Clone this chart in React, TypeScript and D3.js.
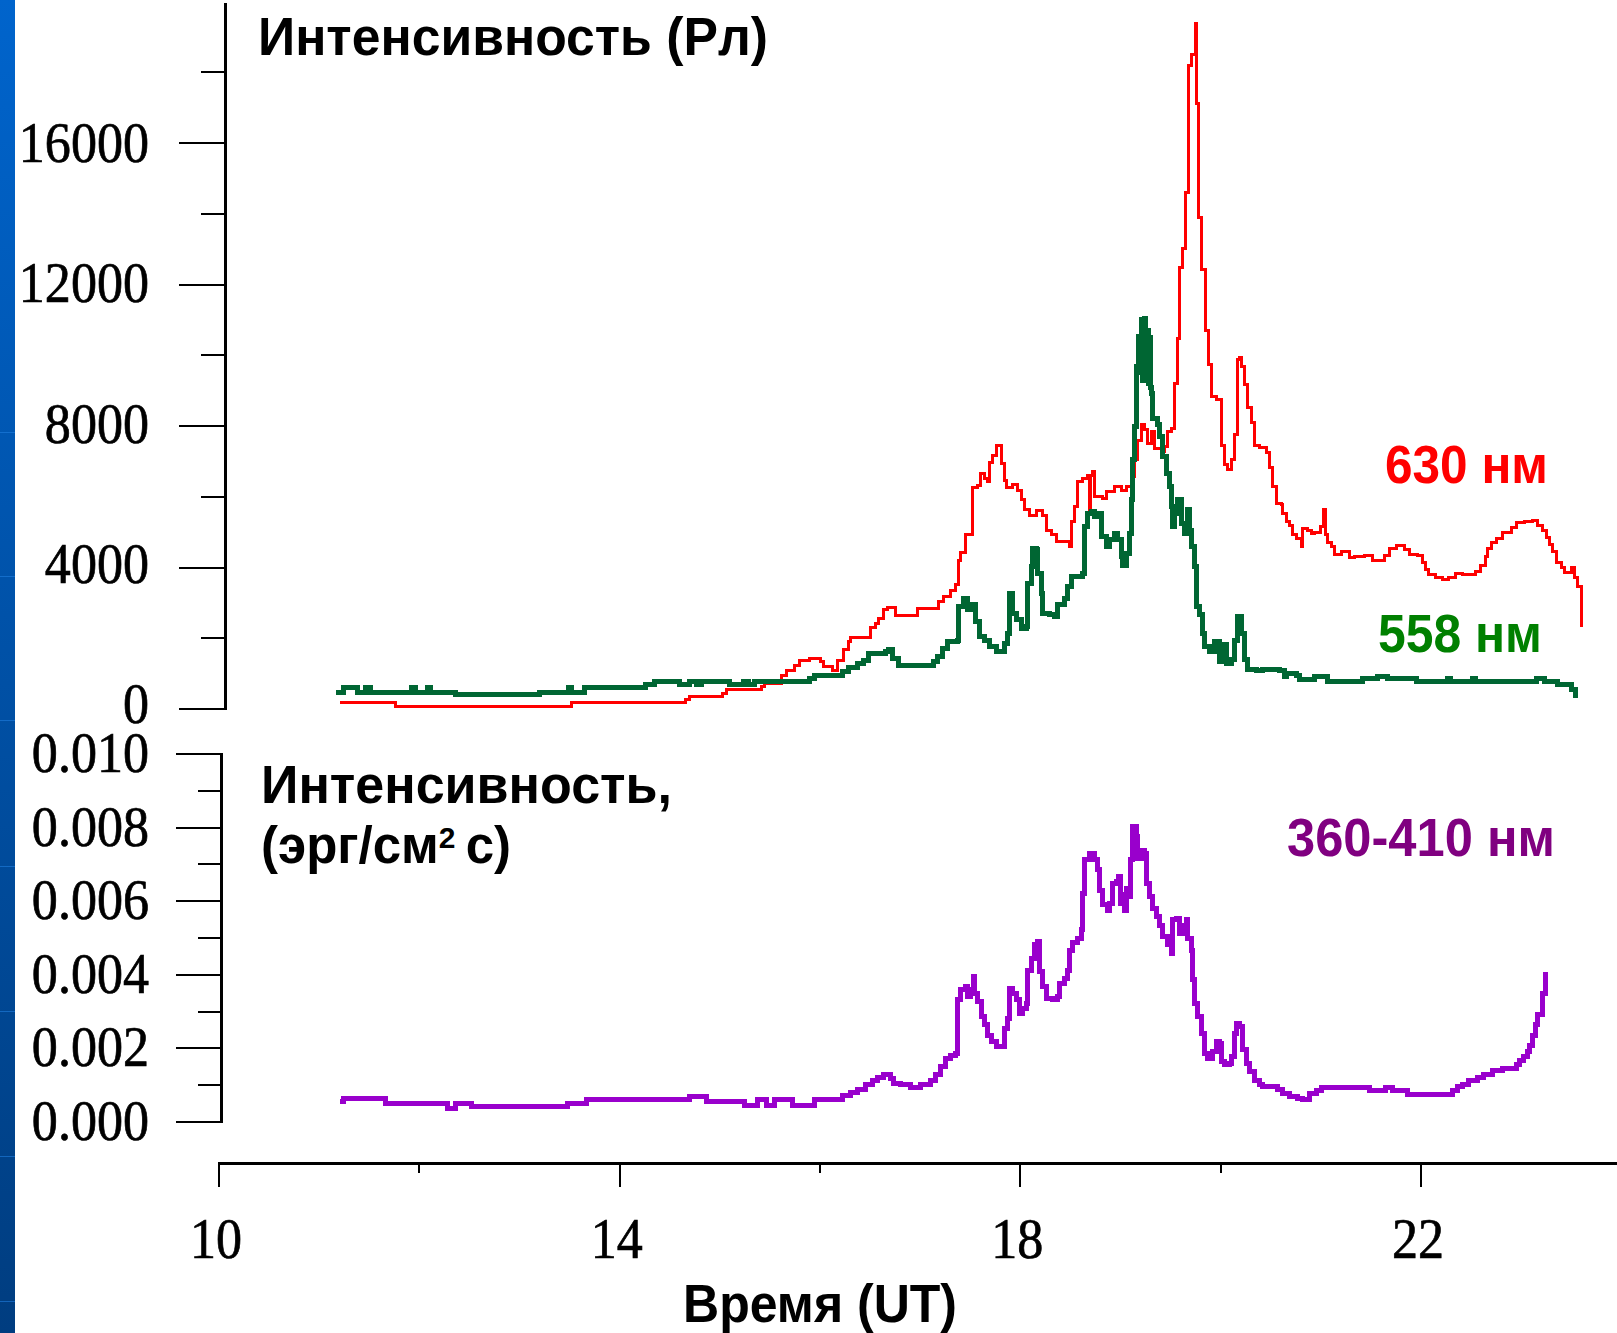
import React from 'react';
import * as d3 from 'd3';

type Pt = [number, number];

// Time axis (UT hours)
const hourTicks = [10, 12, 14, 16, 18, 20, 22];
const hourLabels = [10, 14, 18, 22];

// Upper panel: intensity in Rayleigh
const rayleighTicks = [0, 2000, 4000, 6000, 8000, 10000, 12000, 14000, 16000, 18000];
const rayleighLabels = [0, 4000, 8000, 12000, 16000];

// Lower panel: intensity in erg/(cm^2 s)
const ergTicks = [0, 0.001, 0.002, 0.003, 0.004, 0.005, 0.006, 0.007, 0.008, 0.009, 0.01];
const ergLabels = ['0.000', '0.002', '0.004', '0.006', '0.008', '0.010'];
const ergLabelValues = [0, 0.002, 0.004, 0.006, 0.008, 0.01];

// 630 nm emission, Rayleigh
const red630: Pt[] = [
  [11.21, 170], [11.76, 80], [13.52, 170], [14.66, 270], [14.70, 360], [15.03, 450], [15.07, 540],
  [15.42, 630], [15.45, 730], [15.57, 730], [15.62, 960], [15.67, 1080], [15.75, 1240], [15.80, 1360],
  [15.90, 1440], [15.95, 1440], [16.00, 1340], [16.03, 1190], [16.10, 1190], [16.12, 1080], [16.17, 1360],
  [16.23, 1670], [16.28, 1900], [16.30, 2010], [16.48, 2020], [16.50, 2290], [16.55, 2430], [16.58, 2570],
  [16.63, 2800], [16.67, 2880], [16.75, 2640], [16.95, 2640], [16.97, 2830], [17.17, 2830], [17.18, 3030],
  [17.23, 3190], [17.30, 3340], [17.35, 3510], [17.38, 4210], [17.40, 4410], [17.45, 4920], [17.52, 6250],
  [17.57, 6330], [17.60, 6670], [17.64, 6530], [17.67, 6420], [17.69, 6980], [17.72, 7180], [17.76, 7440],
  [17.81, 6950], [17.84, 6470], [17.86, 6250], [17.92, 6360], [17.97, 6190], [18.01, 5910], [18.04, 5630],
  [18.09, 5480], [18.16, 5610], [18.22, 5480], [18.26, 5060], [18.31, 4920], [18.36, 4730], [18.49, 4590],
  [18.51, 5300], [18.54, 5720], [18.57, 6430], [18.62, 6530], [18.67, 6600], [18.69, 5540], [18.70, 6610],
  [18.72, 6710], [18.74, 6000], [18.82, 5960], [18.86, 6140], [18.94, 6280], [19.01, 6190], [19.06, 6280],
  [19.11, 6570], [19.14, 7040], [19.17, 7600], [19.21, 8030], [19.24, 7890], [19.27, 7510], [19.31, 7840],
  [19.34, 7370], [19.41, 7270], [19.44, 7420], [19.47, 7840], [19.51, 7940], [19.54, 9210], [19.57, 10480],
  [19.59, 12470], [19.62, 13030], [19.65, 14590], [19.68, 18180], [19.71, 18490], [19.75, 19390],
  [19.76, 17130], [19.78, 13880], [19.81, 12410], [19.85, 10690], [19.88, 9750], [19.91, 8820],
  [19.96, 8740], [20.01, 7460], [20.04, 6900], [20.07, 6760], [20.11, 7040], [20.14, 7750], [20.17, 9890],
  [20.19, 9950], [20.21, 9670], [20.24, 9160], [20.27, 8510], [20.31, 8090], [20.34, 7460], [20.39, 7380],
  [20.46, 7240], [20.49, 6840], [20.52, 6280], [20.56, 5820], [20.61, 5770], [20.62, 5540], [20.66, 5290],
  [20.69, 5200], [20.72, 4920], [20.76, 4830], [20.81, 4580], [20.82, 5090], [20.87, 5060], [20.91, 4950],
  [20.94, 5000], [21.00, 5150], [21.03, 5650], [21.05, 4920], [21.07, 4720], [21.11, 4580], [21.14, 4380],
  [21.21, 4440], [21.29, 4270], [21.34, 4300], [21.44, 4350], [21.52, 4210], [21.61, 4210], [21.64, 4350],
  [21.69, 4550], [21.76, 4610], [21.84, 4520], [21.89, 4380], [21.97, 4350], [22.01, 4130], [22.04, 3930],
  [22.07, 3790], [22.14, 3730], [22.21, 3650], [22.27, 3730], [22.34, 3840], [22.41, 3790], [22.49, 3790],
  [22.54, 3900], [22.59, 4070], [22.64, 4300], [22.66, 4550], [22.70, 4720], [22.75, 4830], [22.81, 5000],
  [22.90, 5120], [22.95, 5260], [23.03, 5290], [23.11, 5340], [23.16, 5200], [23.21, 5060], [23.25, 4860],
  [23.28, 4640], [23.31, 4440], [23.35, 4130], [23.40, 3990], [23.43, 3870], [23.50, 3990], [23.53, 3730],
  [23.56, 3450], [23.60, 2320],
];

// 558 nm emission, Rayleigh
const green558: Pt[] = [
  [11.17, 480], [11.24, 610], [11.38, 480], [11.46, 610], [11.51, 480], [11.92, 610], [11.96, 480],
  [12.08, 610], [12.11, 480], [12.36, 400], [13.20, 480], [13.49, 610], [13.52, 480], [13.65, 600],
  [14.26, 680], [14.35, 790], [14.60, 680], [14.70, 790], [14.77, 680], [14.82, 790], [15.10, 680],
  [15.24, 790], [15.29, 680], [15.35, 790], [15.57, 770], [15.90, 870], [15.95, 940], [16.22, 1070],
  [16.28, 1160], [16.37, 1300], [16.43, 1370], [16.48, 1580], [16.65, 1620], [16.68, 1670], [16.72, 1430],
  [16.78, 1220], [17.10, 1220], [17.13, 1340], [17.17, 1480], [17.22, 1720], [17.27, 1900], [17.37, 1950],
  [17.38, 2890], [17.43, 3130], [17.47, 2800], [17.52, 2940], [17.55, 2470], [17.59, 2040], [17.64, 1950],
  [17.69, 1760], [17.76, 1620], [17.84, 1860], [17.87, 2140], [17.89, 3270], [17.92, 2710], [17.96, 2520],
  [18.01, 2280], [18.06, 2330], [18.07, 3550], [18.11, 4020], [18.12, 4540], [18.16, 4500], [18.17, 3840],
  [18.21, 3270], [18.22, 2710], [18.29, 2660], [18.34, 2610], [18.37, 2940], [18.44, 3130], [18.47, 3460],
  [18.51, 3740], [18.62, 3840], [18.64, 5150], [18.67, 5530], [18.71, 5580], [18.74, 5440], [18.77, 5530],
  [18.81, 4870], [18.86, 4590], [18.89, 4780], [18.94, 4970], [18.97, 4780], [19.01, 4310], [19.02, 4070],
  [19.06, 4400], [19.09, 4970], [19.11, 5910], [19.12, 7040], [19.14, 7980], [19.16, 9680], [19.18, 10530],
  [19.19, 9500], [19.21, 11000], [19.22, 9300], [19.24, 11050], [19.25, 9400], [19.27, 10700],
  [19.28, 9200], [19.29, 10500], [19.30, 9100], [19.31, 8930], [19.32, 8220], [19.37, 8030], [19.39, 7700],
  [19.42, 7130], [19.46, 6660], [19.49, 6290], [19.51, 5720], [19.52, 5150], [19.54, 5530], [19.57, 5910],
  [19.61, 5250], [19.64, 4970], [19.67, 5630], [19.69, 5060], [19.71, 4590], [19.74, 4020], [19.76, 2890],
  [19.79, 2660], [19.82, 2140], [19.84, 1760], [19.89, 1620], [19.94, 1900], [19.99, 1340], [20.01, 1810],
  [20.06, 1290], [20.11, 1390], [20.14, 1950], [20.17, 2610], [20.21, 2140], [20.24, 1390], [20.27, 1120],
  [20.36, 1080], [20.42, 1120], [20.59, 1080], [20.64, 930], [20.66, 1010], [20.76, 960], [20.79, 820],
  [20.94, 910], [21.07, 770], [21.42, 870], [21.57, 930], [21.67, 870], [21.96, 770], [22.26, 870],
  [22.29, 770], [22.51, 870], [22.54, 770], [23.15, 870], [23.23, 770], [23.36, 680], [23.50, 540],
  [23.54, 310],
];

// 360-410 nm band, erg/(cm^2 s)
const violet360: Pt[] = [
  [11.21, 0.00055], [11.24, 0.00063], [11.66, 0.00051], [12.28, 0.00037], [12.36, 0.00051],
  [12.52, 0.00042], [13.48, 0.00051], [13.67, 0.0006], [14.70, 0.00069], [14.87, 0.00055],
  [15.25, 0.00046], [15.38, 0.0006], [15.47, 0.00046], [15.55, 0.0006], [15.73, 0.00046],
  [15.95, 0.0006], [16.22, 0.00071], [16.30, 0.00079], [16.37, 0.00089], [16.45, 0.00101],
  [16.52, 0.00114], [16.57, 0.00121], [16.63, 0.0013], [16.70, 0.00119], [16.73, 0.00105],
  [16.80, 0.00101], [16.90, 0.00094], [17.00, 0.00103], [17.10, 0.00114], [17.15, 0.00128],
  [17.20, 0.0015], [17.25, 0.00173], [17.30, 0.00182], [17.35, 0.00187], [17.37, 0.00332],
  [17.40, 0.00359], [17.45, 0.00368], [17.47, 0.0034], [17.50, 0.00359], [17.53, 0.00395],
  [17.54, 0.0035], [17.57, 0.00327], [17.61, 0.00286], [17.64, 0.00264], [17.67, 0.00236],
  [17.71, 0.00218], [17.76, 0.00205], [17.82, 0.00205], [17.84, 0.00255], [17.87, 0.00282],
  [17.89, 0.00363], [17.92, 0.0035], [17.96, 0.00332], [17.99, 0.00295], [18.02, 0.00309],
  [18.06, 0.00323], [18.07, 0.00413], [18.11, 0.00445], [18.14, 0.00481], [18.17, 0.0049],
  [18.19, 0.00408], [18.22, 0.00368], [18.26, 0.00336], [18.32, 0.00332], [18.37, 0.0034],
  [18.39, 0.00377], [18.44, 0.0039], [18.47, 0.00413], [18.49, 0.00467], [18.52, 0.00487],
  [18.57, 0.00499], [18.61, 0.00522], [18.62, 0.00621], [18.64, 0.00712], [18.69, 0.0073],
  [18.74, 0.00712], [18.77, 0.00685], [18.79, 0.0063], [18.82, 0.0059], [18.87, 0.00576],
  [18.89, 0.00594], [18.92, 0.00649], [18.96, 0.00653], [18.98, 0.00667], [19.00, 0.00594],
  [19.02, 0.00617], [19.04, 0.00576], [19.06, 0.00635], [19.08, 0.00612], [19.10, 0.00712],
  [19.12, 0.00802], [19.16, 0.00775], [19.17, 0.00717], [19.21, 0.00739], [19.24, 0.0073],
  [19.26, 0.00649], [19.29, 0.00612], [19.32, 0.00581], [19.36, 0.00558], [19.39, 0.00535],
  [19.42, 0.00504], [19.47, 0.00481], [19.51, 0.00458], [19.52, 0.00549], [19.56, 0.00553],
  [19.59, 0.00513], [19.62, 0.00535], [19.66, 0.00549], [19.67, 0.00499], [19.71, 0.00467],
  [19.72, 0.00386], [19.74, 0.00323], [19.77, 0.00286], [19.81, 0.00241], [19.84, 0.00187],
  [19.87, 0.00173], [19.92, 0.00191], [19.96, 0.00218], [19.99, 0.00214], [20.01, 0.00164],
  [20.04, 0.00155], [20.09, 0.0016], [20.11, 0.00177], [20.14, 0.00241], [20.16, 0.00268],
  [20.19, 0.00259], [20.22, 0.00196], [20.26, 0.0016], [20.29, 0.00137], [20.34, 0.00114],
  [20.39, 0.00101], [20.42, 0.00096], [20.52, 0.00096], [20.57, 0.00087], [20.62, 0.00078],
  [20.69, 0.00069], [20.77, 0.00064], [20.82, 0.0006], [20.89, 0.00078], [20.96, 0.00085],
  [21.01, 0.00094], [21.49, 0.00085], [21.65, 0.00094], [21.72, 0.00085], [21.87, 0.00076],
  [22.27, 0.00076], [22.31, 0.00085], [22.36, 0.00096], [22.41, 0.00103], [22.47, 0.00112],
  [22.56, 0.00121], [22.62, 0.00128], [22.71, 0.00139], [22.81, 0.00146], [22.93, 0.00146],
  [22.95, 0.00157], [22.98, 0.00166], [23.02, 0.00177], [23.06, 0.00191], [23.08, 0.00207],
  [23.11, 0.00236], [23.14, 0.00264], [23.16, 0.00291], [23.21, 0.0035], [23.24, 0.00408],
];

const W = 1617;
const H = 1333;
const SERIF = '"Liberation Serif", "Times New Roman", serif';
const SANS = '"Liberation Sans", Arial, sans-serif';

const x = d3.scaleLinear().domain([10, 22]).range([219, 1421]);
const yTop = d3.scaleLinear().domain([0, 16000]).range([709, 143]);
const yBot = d3.scaleLinear().domain([0, 0.01]).range([1122, 754]);

const topLine = d3.line<Pt>().x((d) => x(d[0])).y((d) => yTop(d[1])).curve(d3.curveStepAfter);
const botLine = d3.line<Pt>().x((d) => x(d[0])).y((d) => yBot(d[1])).curve(d3.curveStepAfter);

const stripeLines = [432, 576, 720, 866, 1011, 1156, 1301];

function TickLabel({ x0, y0, text, anchor }: { x0: number; y0: number; text: string; anchor: 'end' | 'middle' }) {
  return (
    <g transform={`translate(${x0},${y0}) scale(0.93,1)`}>
      <text
        x={0}
        y={0}
        textAnchor={anchor}
        fontFamily={SERIF}
        fontSize={56}
        fill="#000"
        stroke="#000"
        strokeWidth={0.7}
      >
        {text}
      </text>
    </g>
  );
}

export default function App() {
  const topAxisX = 225.5;
  const botAxisX = 221.5;
  const xAxisY = 1163;
  // labels of the upper axis sit slightly lower relative to their ticks toward the top
  const topLabelBaseline = (v: number) => yTop(v) + 14 + ((709 - yTop(v)) / 566) * 5;
  return (
    <svg
      width={W}
      height={H}
      viewBox={`0 0 ${W} ${H}`}
      style={{ position: 'absolute', left: 0, top: 0, background: '#fff' }}
    >
      <defs>
        <linearGradient id="edge" x1="0" y1="0" x2="0" y2="1">
          <stop offset="0" stopColor="#0064cc" />
          <stop offset="1" stopColor="#003d80" />
        </linearGradient>
      </defs>
      <rect x={0} y={0} width={W} height={H} fill="#fff" />

      {/* blue edge band */}
      <rect x={0} y={0} width={15} height={H} fill="url(#edge)" />
      {stripeLines.map((yy) => (
        <rect key={yy} x={0} y={yy} width={15} height={1} fill="#1f7fe0" opacity={0.6} />
      ))}

      {/* upper panel axis */}
      <g shapeRendering="crispEdges">
        <line x1={topAxisX} x2={topAxisX} y1={3} y2={yTop(0) + 1} stroke="#000" strokeWidth={3} />
        {rayleighTicks.map((v) => {
          const major = rayleighLabels.includes(v);
          return (
            <line
              key={v}
              x1={major ? 179 : 201}
              x2={topAxisX}
              y1={yTop(v)}
              y2={yTop(v)}
              stroke="#000"
              strokeWidth={2}
            />
          );
        })}
      </g>
      {rayleighLabels.map((v) => (
        <TickLabel key={v} x0={149} y0={topLabelBaseline(v)} text={String(v)} anchor="end" />
      ))}

      {/* lower panel axis */}
      <g shapeRendering="crispEdges">
        <line x1={botAxisX} x2={botAxisX} y1={yBot(0.01) - 1} y2={yBot(0) + 1} stroke="#000" strokeWidth={3} />
        {ergTicks.map((v, i) => {
          const major = i % 2 === 0;
          return (
            <line
              key={v}
              x1={major ? 176 : 198}
              x2={botAxisX}
              y1={yBot(v)}
              y2={yBot(v)}
              stroke="#000"
              strokeWidth={2}
            />
          );
        })}
      </g>
      {ergLabelValues.map((v, i) => (
        <TickLabel key={v} x0={149} y0={yBot(v) + 18} text={ergLabels[i]} anchor="end" />
      ))}

      {/* time axis */}
      <g shapeRendering="crispEdges">
        <line x1={x(10) - 1} x2={W} y1={xAxisY} y2={xAxisY} stroke="#000" strokeWidth={3} />
        {hourTicks.map((h) => {
          const major = hourLabels.includes(h);
          return (
            <line
              key={h}
              x1={x(h)}
              x2={x(h)}
              y1={xAxisY}
              y2={major ? 1187 : 1173}
              stroke="#000"
              strokeWidth={2}
            />
          );
        })}
      </g>
      {hourLabels.map((h) => (
        <TickLabel key={h} x0={x(h) - 3} y0={1258} text={String(h)} anchor="middle" />
      ))}

      {/* series */}
      <g fill="none" strokeLinejoin="miter" strokeLinecap="butt" shapeRendering="crispEdges">
        <path d={topLine(red630) ?? ''} stroke="#ff0000" strokeWidth={3} />
        <path d={topLine(green558) ?? ''} stroke="#006633" strokeWidth={5} />
        <path d={botLine(violet360) ?? ''} stroke="#9900cc" strokeWidth={5} />
      </g>

      {/* titles and series names */}
      <g fontFamily={SANS} fontWeight="bold" fill="#000">
        <text x={258} y={55} fontSize={54} textLength={510} lengthAdjust="spacingAndGlyphs">
          Интенсивность (Рл)
        </text>
        {/* two-line unit title of the lower panel */}
        <text x={261} y={803} fontSize={54}>
          <tspan x={261} y={803} textLength={411} lengthAdjust="spacingAndGlyphs">
            Интенсивность,
          </tspan>
          <tspan x={261} y={863} fontSize={51}>(эрг/см</tspan>
          <tspan fontSize={30} dy={-15}>2</tspan>
          <tspan fontSize={51} dy={15}>{'\u2009'}с)</tspan>
        </text>
        <text x={683} y={1322} fontSize={54} textLength={274} lengthAdjust="spacingAndGlyphs">
          Время (UT)
        </text>
        <text x={1385} y={483} fontSize={54} fill="#ff0000" textLength={163} lengthAdjust="spacingAndGlyphs">
          630 нм
        </text>
        <text x={1378} y={652} fontSize={54} fill="#008000" textLength={164} lengthAdjust="spacingAndGlyphs">
          558 нм
        </text>
        <text x={1287} y={856} fontSize={54} fill="#800080" textLength={268} lengthAdjust="spacingAndGlyphs">
          360-410 нм
        </text>
      </g>
    </svg>
  );
}
